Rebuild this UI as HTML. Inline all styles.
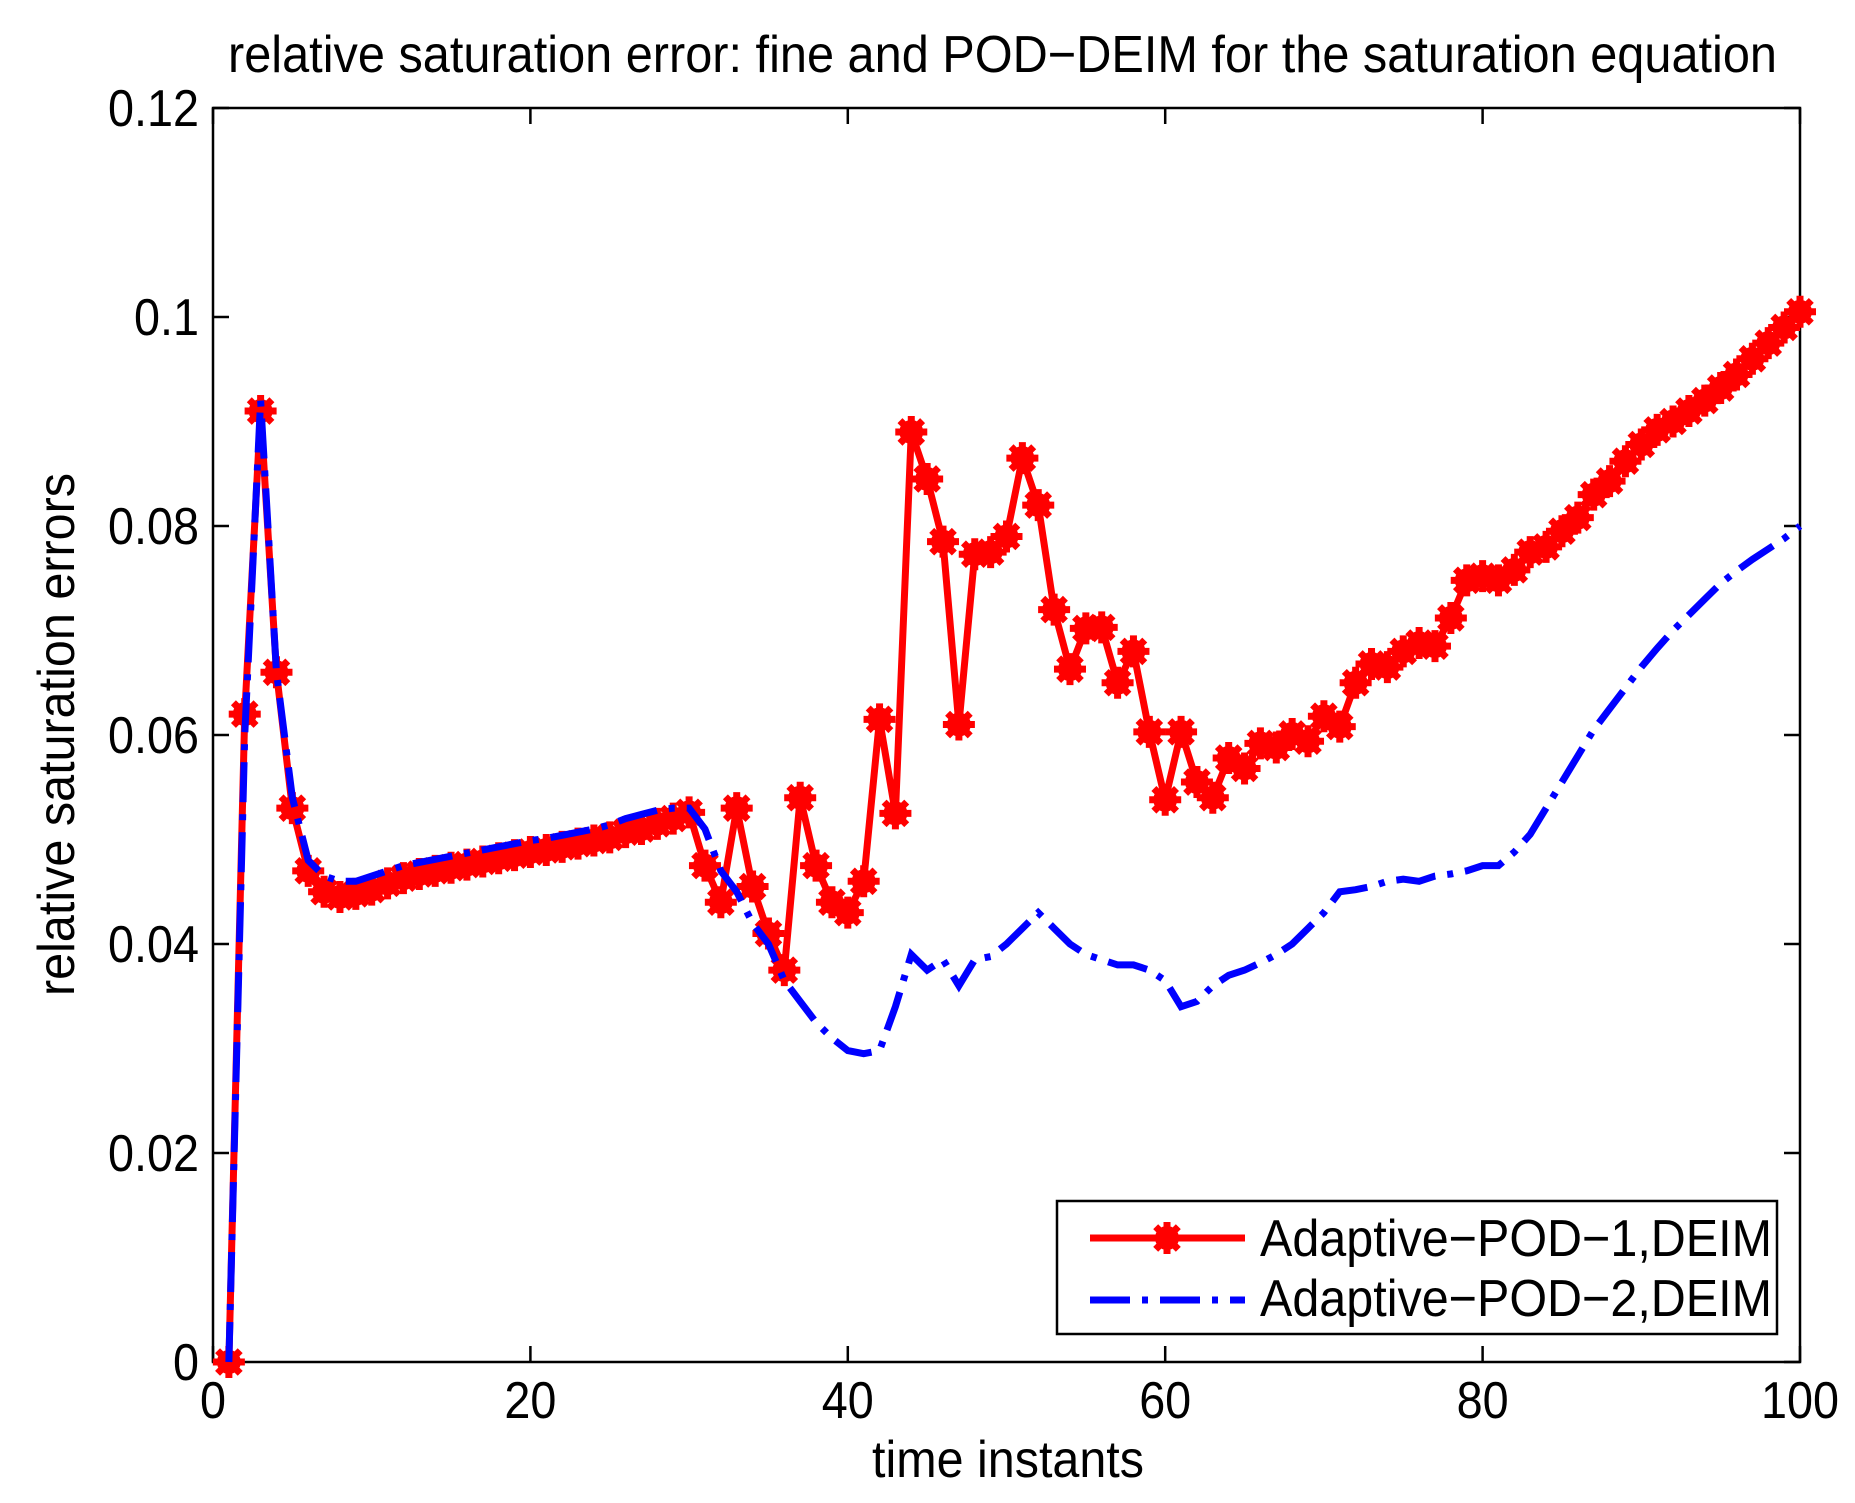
<!DOCTYPE html>
<html><head><meta charset="utf-8"><style>
html,body{margin:0;padding:0;background:#fff;}
svg{display:block;font-family:"Liberation Sans",Arial,sans-serif;}
</style></head><body>
<svg id="chart" width="1855" height="1503" viewBox="0 0 1855 1503" xmlns="http://www.w3.org/2000/svg">
<rect width="1855" height="1503" fill="#fff"/>
<text x="228" y="72" font-size="52" textLength="1549" lengthAdjust="spacingAndGlyphs">relative saturation error: fine and POD−DEIM for the saturation equation</text>
<g id="axes"></g>
<g id="series"></g>
<text x="872" y="1477" font-size="52" textLength="272" lengthAdjust="spacingAndGlyphs">time instants</text>
<text transform="translate(74,996) rotate(-90)" font-size="52" textLength="523" lengthAdjust="spacingAndGlyphs">relative saturation errors</text>
<g>
<rect x="1057" y="1201" width="720" height="133" fill="#fff" stroke="#000" stroke-width="2.5"/>
<line x1="1090" y1="1238" x2="1245" y2="1238" stroke="#f00" stroke-width="7"/>
<g id="legmark"></g>
<text x="1260" y="1256" font-size="52" textLength="512" lengthAdjust="spacingAndGlyphs">Adaptive−POD−1,DEIM</text>
<line x1="1090" y1="1300" x2="1245" y2="1300" stroke="#00f" stroke-width="7" stroke-dasharray="40,12,6,12"/>
<text x="1260" y="1316" font-size="52" textLength="512" lengthAdjust="spacingAndGlyphs">Adaptive−POD−2,DEIM</text>
</g>
</svg>
<script>
const xTicks=[0,20,40,60,80,100];
const yTicks=[0,0.02,0.04,0.06,0.08,0.1,0.12];
const yTickLabels=["0","0.02","0.04","0.06","0.08","0.1","0.12"];
const redValues=[0,0.062,0.091,0.066,0.053,0.047,0.045,0.0445,0.0448,0.0452,0.0458,0.0463,0.0467,0.047,0.0473,0.0476,0.0479,0.0482,0.0485,0.0488,0.049,0.0493,0.0496,0.0499,0.0502,0.0507,0.051,0.0515,0.052,0.0526,0.0475,0.044,0.053,0.0455,0.041,0.0375,0.054,0.0475,0.044,0.043,0.046,0.0615,0.0525,0.089,0.0845,0.0785,0.061,0.0773,0.0775,0.079,0.0865,0.082,0.072,0.0663,0.0702,0.0703,0.065,0.068,0.0603,0.0538,0.0603,0.0555,0.054,0.0578,0.0568,0.0592,0.0588,0.0601,0.0594,0.0618,0.0608,0.065,0.0668,0.0665,0.068,0.0688,0.0685,0.0712,0.0748,0.0752,0.0748,0.0758,0.0775,0.078,0.0795,0.0808,0.083,0.0843,0.0862,0.0878,0.0892,0.09,0.091,0.092,0.0932,0.0945,0.096,0.0975,0.099,0.1005];
const blueValues=[0,0.060,0.092,0.066,0.054,0.048,0.0465,0.046,0.046,0.0465,0.047,0.0475,0.0478,0.0481,0.0484,0.0487,0.049,0.0493,0.0496,0.0499,0.0501,0.0504,0.0507,0.051,0.0514,0.052,0.0524,0.0528,0.053,0.053,0.051,0.047,0.045,0.042,0.040,0.0365,0.0345,0.0325,0.031,0.0298,0.0295,0.0298,0.034,0.039,0.0375,0.0385,0.036,0.0385,0.0388,0.040,0.0415,0.043,0.0415,0.040,0.039,0.0385,0.038,0.038,0.0375,0.0365,0.034,0.0345,0.036,0.037,0.0375,0.0382,0.039,0.040,0.0415,0.043,0.045,0.0452,0.0455,0.046,0.0462,0.046,0.0465,0.0467,0.047,0.0475,0.0475,0.0488,0.0505,0.053,0.0555,0.058,0.0605,0.0625,0.0645,0.0665,0.0683,0.07,0.0715,0.073,0.0745,0.0757,0.0768,0.0778,0.0788,0.08];

const NS="http://www.w3.org/2000/svg";
const L=213,R=1800,T=108,B=1362;
const sx=v=>L+(v-0)/(100-0)*(R-L);
const sy=v=>B-(v-0)/(0.12-0)*(B-T);
function mk(tag,attrs,parent){const e=document.createElementNS(NS,tag);for(const k in attrs)e.setAttribute(k,attrs[k]);parent.appendChild(e);return e;}
const axes=document.getElementById('axes');
const frame=mk('rect',{x:L,y:T,width:R-L,height:B-T,fill:'none',stroke:'#000','stroke-width':2.5},axes);


xTicks.forEach(t=>{
  const x=sx(t);
  mk('line',{x1:x,y1:B,x2:x,y2:B-16,stroke:'#000','stroke-width':2.5},axes);
  mk('line',{x1:x,y1:T,x2:x,y2:T+16,stroke:'#000','stroke-width':2.5},axes);
  const s=String(t);
  const tx=mk('text',{x:x,y:B+56,'font-size':52,'text-anchor':'middle',textLength:s.length*26,lengthAdjust:'spacingAndGlyphs'},axes);
  tx.textContent=s;
  
  
});
yTicks.forEach((t,i)=>{
  const y=sy(t);
  mk('line',{x1:L,y1:y,x2:L+16,y2:y,stroke:'#000','stroke-width':2.5},axes);
  mk('line',{x1:R,y1:y,x2:R-16,y2:y,stroke:'#000','stroke-width':2.5},axes);
  const s=yTickLabels[i];
  const w=s.length===1?26:(s.length-1)*26+13;
  const tx=mk('text',{x:L-14,y:y+18,'font-size':52,'text-anchor':'end',textLength:w,lengthAdjust:'spacingAndGlyphs'},axes);
  tx.textContent=s;
  
  
});
const ser=document.getElementById('series');
function star(g,x,y){
  const r=16;
  mk('circle',{cx:x,cy:y,r:12,fill:'#f00'},g);
  for(let a=0;a<4;a++){const an=a*Math.PI/4;mk('line',{x1:x-r*Math.cos(an),y1:y-r*Math.sin(an),x2:x+r*Math.cos(an),y2:y+r*Math.sin(an),stroke:'#f00','stroke-width':7},g);}
}
const redG=mk('g',{},ser);


const rp=redValues.map((v,i)=>sx(i+1)+','+sy(v)).join(' ');
mk('polyline',{points:rp,fill:'none',stroke:'#f00','stroke-width':7,'stroke-linejoin':'round'},redG);
redValues.forEach((v,i)=>star(redG,sx(i+1),sy(v)));
const blueG=mk('g',{},ser);


const bp=blueValues.map((v,i)=>sx(i+1)+','+sy(v)).join(' ');
mk('polyline',{points:bp,fill:'none',stroke:'#00f','stroke-width':7,'stroke-dasharray':'40,12,6,12'},blueG);
star(document.getElementById('legmark'),1167,1238);
</script>
</body></html>
